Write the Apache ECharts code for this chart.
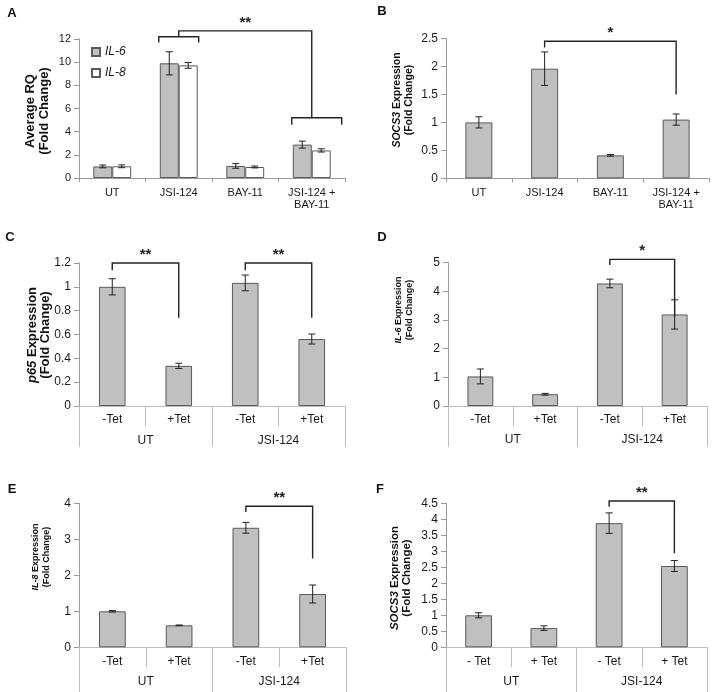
<!DOCTYPE html>
<html><head><meta charset="utf-8">
<script src="https://cdn.jsdelivr.net/npm/echarts@6/dist/echarts.min.js"></script>
<style>html,body{margin:0;padding:0;background:#fff}#c{width:714px;height:692px}</style>
</head><body><div id="c"></div>
<script>
// ---------- data ----------
const catsAB = ['UT', 'JSI-124', 'BAY-11', 'JSI-124 +\nBAY-11'];
const il6MeanA = [1.0, 9.9, 1.04, 2.88];
const il6ErrA = [0.12, 1.0, 0.2, 0.3];
const il8MeanA = [1.01, 9.72, 0.95, 2.38];
const il8ErrA = [0.12, 0.25, 0.08, 0.14];
const socs3MeanB = [1.0, 1.96, 0.41, 1.05];
const socs3ErrB = [0.1, 0.3, 0.015, 0.1];
const tetCats = ['-Tet', '+Tet', '-Tet', '+Tet'];
const tetCatsF = ['- Tet', '+ Tet', '- Tet', '+ Tet'];
const groupCats = ['UT', 'JSI-124'];
const p65MeanC = [1.0, 0.337, 1.033, 0.562];
const p65ErrC = [0.068, 0.022, 0.066, 0.042];
const il6MeanD = [1.03, 0.41, 4.27, 3.19];
const il6ErrD = [0.26, 0.03, 0.15, 0.51];
const il8MeanE = [1.0, 0.61, 3.32, 1.48];
const il8ErrE = [0.02, 0.01, 0.15, 0.25];
const socs3MeanF = [1.0, 0.6, 3.88, 2.54];
const socs3ErrF = [0.08, 0.07, 0.32, 0.17];
const yTicks = {A: [0, 12, 2], B: [0, 2.5, 0.5], C: [0, 1.2, 0.2], D: [0, 5, 1], E: [0, 4, 1], F: [0, 4.5, 0.5]};
// significance brackets (category units, value units)
const sigB = {from: 1, to: 3, top: 2.45, leftEnd: 2.34, rightEnd: 1.5, text: '*'};
const sigC1 = {from: 0, to: 1, top: 1.2, leftEnd: 1.14, rightEnd: 0.74, text: '**'};
const sigC2 = {from: 2, to: 3, top: 1.2, leftEnd: 1.14, rightEnd: 0.74, text: '**'};
const sigD = {from: 2, to: 3, top: 5.11, leftEnd: 4.91, rightEnd: 3.11, text: '*'};
const sigE = {from: 2, to: 3, top: 3.92, leftEnd: 3.76, rightEnd: 2.47, text: '**'};
const sigF = {from: 2, to: 3, top: 4.57, leftEnd: 4.39, rightEnd: 2.94, text: '**'};
const sigA = {leftFrom: 0.7, leftTo: 1.3, leftMid: 1, rightFrom: 2.7, rightTo: 3.45, rightMid: 3,
  top: 12.7, leftInner: 12.2, leftEnds: 11.7, rightInner: 5.2, rightEnds: 4.6, text: '**'};

// ---------- styling ----------
const FONT = "'Liberation Sans', Arial, sans-serif";
const GREY = '#c0c0c0', EDGE = '#5a5a5a', AX = '#9a9a9a', TXT = '#1a1a1a';

const chart = echarts.init(document.getElementById('c'), null, {renderer: 'canvas'});

const grids = [
  {left: 79, top: 39, width: 266, height: 139},
  {left: 446, top: 38.5, width: 263, height: 139.8},
  {left: 79, top: 263, width: 266, height: 143},
  {left: 448, top: 262.5, width: 259, height: 143.5},
  {left: 79, top: 503.3, width: 267, height: 144},
  {left: 446, top: 503.3, width: 261, height: 144}
];

function yAx(g, t, fs) {
  return {type: 'value', gridIndex: g, min: t[0], max: t[1], interval: t[2],
    axisLine: {show: true, lineStyle: {color: AX}},
    axisTick: {show: true, length: 5, lineStyle: {color: AX}},
    splitLine: {show: false},
    axisLabel: {fontFamily: FONT, fontSize: fs, color: TXT, margin: 8}};
}
function xAxSimple(g, cats) {
  return {type: 'category', gridIndex: g, data: cats, position: 'bottom',
    axisLine: {lineStyle: {color: AX}},
    axisTick: {show: true, interval: 0, length: 4, lineStyle: {color: AX}},
    axisLabel: {fontFamily: FONT, fontSize: 11, color: TXT, margin: 9, interval: 0, lineHeight: 12}};
}
function xAxTet(g, cats) {
  return {type: 'category', gridIndex: g, data: cats, position: 'bottom', offset: 0,
    axisLine: {lineStyle: {color: '#bdbdbd'}},
    axisTick: {show: true, interval: 0, length: 20, lineStyle: {color: '#bdbdbd'}},
    axisLabel: {fontFamily: FONT, fontSize: 12, color: TXT, margin: 8, interval: 0}};
}
function xAxGroup(g, len, margin) {
  return {type: 'category', gridIndex: g, data: groupCats, position: 'bottom', offset: 0,
    axisLine: {show: false},
    axisTick: {show: true, interval: 0, length: len, lineStyle: {color: '#bdbdbd'}},
    axisLabel: {fontFamily: FONT, fontSize: 12, color: TXT, margin: margin, interval: 0}};
}

const xAxis = [
  xAxSimple(0, catsAB), xAxSimple(1, catsAB),
  xAxTet(2, tetCats), xAxGroup(2, 41, 29),
  xAxTet(3, tetCats), xAxGroup(3, 41, 28),
  xAxTet(4, tetCats), xAxGroup(4, 45, 28),
  xAxTet(5, tetCatsF), xAxGroup(5, 45, 28)
];
const yAxis = [yAx(0, yTicks.A, 11), yAx(1, yTicks.B, 12), yAx(2, yTicks.C, 12),
  yAx(3, yTicks.D, 12), yAx(4, yTicks.E, 12), yAx(5, yTicks.F, 12)];

function bar(name, xi, yi, data, color, width, extra) {
  return Object.assign({type: 'bar', name: name, xAxisIndex: xi, yAxisIndex: yi, data: data,
    barWidth: width, itemStyle: {color: color, borderColor: EDGE, borderWidth: 1},
    silent: true, animation: false}, extra || {});
}
function errBars(xi, yi, means, errs, offsetFrac) {
  return {type: 'custom', xAxisIndex: xi, yAxisIndex: yi, clip: false, silent: true, animation: false, z: 5,
    data: means.map((m, i) => [i, m, errs[i]]),
    renderItem: function (params, api) {
      const x = api.value(0), v = api.value(1), e = api.value(2);
      const c = api.coord([x, v]);
      const band = api.size([1, 0])[0];
      const cx = c[0] + offsetFrac * band;
      const yt = api.coord([x, v + e])[1], yb = api.coord([x, v - e])[1];
      const w = 3.5, st = {stroke: '#222', lineWidth: 1};
      return {type: 'group', children: [
        {type: 'line', shape: {x1: cx, y1: yt, x2: cx, y2: yb}, style: st},
        {type: 'line', shape: {x1: cx - w, y1: yt, x2: cx + w, y2: yt}, style: st},
        {type: 'line', shape: {x1: cx - w, y1: yb, x2: cx + w, y2: yb}, style: st}
      ]};
    }};
}
function sigBracket(xi, yi, s) {
  return {type: 'custom', xAxisIndex: xi, yAxisIndex: yi, clip: false, silent: true, animation: false, z: 6,
    data: [[0, s.top]],
    renderItem: function (params, api) {
      const p0 = api.coord([0, s.top]);
      const band = api.size([1, 0])[0];
      const X = c => p0[0] + c * band;
      const yT = p0[1], yL = api.coord([0, s.leftEnd])[1], yR = api.coord([0, s.rightEnd])[1];
      return {type: 'group', children: [
        {type: 'polyline', shape: {points: [[X(s.from), yL], [X(s.from), yT], [X(s.to), yT], [X(s.to), yR]]},
          style: {stroke: '#222', lineWidth: 1.4, fill: null}},
        {type: 'text', style: {text: s.text, x: (X(s.from) + X(s.to)) / 2, y: yT - 1, align: 'center',
          verticalAlign: 'bottom', fontSize: 15, fontWeight: 'bold', fontFamily: FONT, fill: '#222'}}
      ]};
    }};
}
function sigBracketA(xi, yi, s) {
  return {type: 'custom', xAxisIndex: xi, yAxisIndex: yi, clip: false, silent: true, animation: false, z: 6,
    data: [[0, s.top]],
    renderItem: function (params, api) {
      const p0 = api.coord([0, s.top]);
      const band = api.size([1, 0])[0];
      const X = c => p0[0] + c * band;
      const Y = v => api.coord([0, v])[1];
      const st = {stroke: '#222', lineWidth: 1.4, fill: null};
      return {type: 'group', children: [
        {type: 'polyline', shape: {points: [[X(s.leftMid), Y(s.leftInner)], [X(s.leftMid), Y(s.top)],
          [X(s.rightMid), Y(s.top)], [X(s.rightMid), Y(s.rightInner)]]}, style: st},
        {type: 'polyline', shape: {points: [[X(s.leftFrom), Y(s.leftEnds)], [X(s.leftFrom), Y(s.leftInner)],
          [X(s.leftTo), Y(s.leftInner)], [X(s.leftTo), Y(s.leftEnds)]]}, style: st},
        {type: 'polyline', shape: {points: [[X(s.rightFrom), Y(s.rightEnds)], [X(s.rightFrom), Y(s.rightInner)],
          [X(s.rightTo), Y(s.rightInner)], [X(s.rightTo), Y(s.rightEnds)]]}, style: st},
        {type: 'text', style: {text: s.text, x: (X(s.leftMid) + X(s.rightMid)) / 2, y: Y(s.top) - 1, align: 'center',
          verticalAlign: 'bottom', fontSize: 15, fontWeight: 'bold', fontFamily: FONT, fill: '#222'}}
      ]};
    }};
}

const series = [
  bar('IL-6', 0, 0, il6MeanA, GREY, '28.5%', {barGap: '0%'}),
  bar('IL-8', 0, 0, il8MeanA, '#ffffff', '28.5%', {barGap: '0%'}),
  errBars(0, 0, il6MeanA, il6ErrA, -0.1425),
  errBars(0, 0, il8MeanA, il8ErrA, 0.1425),
  sigBracketA(0, 0, sigA),
  bar('B', 1, 1, socs3MeanB, GREY, '41%'),
  errBars(1, 1, socs3MeanB, socs3ErrB, 0),
  sigBracket(1, 1, sigB),
  bar('C', 2, 2, p65MeanC, GREY, '40%'),
  errBars(2, 2, p65MeanC, p65ErrC, 0),
  sigBracket(2, 2, sigC1), sigBracket(2, 2, sigC2),
  bar('D', 4, 3, il6MeanD, GREY, '40%'),
  errBars(4, 3, il6MeanD, il6ErrD, 0),
  sigBracket(4, 3, sigD),
  bar('E', 6, 4, il8MeanE, GREY, '40%'),
  errBars(6, 4, il8MeanE, il8ErrE, 0),
  sigBracket(6, 4, sigE),
  bar('F', 8, 5, socs3MeanF, GREY, '41%'),
  errBars(8, 5, socs3MeanF, socs3ErrF, 0),
  sigBracket(8, 5, sigF)
];

function letter(t, x, y) {
  return {type: 'text', x: x, y: y, style: {text: t, fontFamily: FONT, fontSize: 13, fontWeight: 'bold',
    fill: '#111', align: 'center', verticalAlign: 'middle'}};
}
function yTitle(text, x, y, fs, lh) {
  return {type: 'text', x: x, y: y, rotation: Math.PI / 2,
    style: {text: text, fontFamily: FONT, fontSize: fs, fontWeight: 'bold', fill: '#111', lineHeight: lh,
      align: 'center', verticalAlign: 'middle',
      rich: {i: {fontStyle: 'italic', fontWeight: 'bold', fontSize: fs, fontFamily: FONT, fill: '#111', lineHeight: lh}}}};
}

chart.setOption({
  animation: false,
  textStyle: {fontFamily: FONT},
  grid: grids,
  xAxis: xAxis,
  yAxis: yAxis,
  legend: {data: ['IL-6', 'IL-8'], orient: 'vertical', left: 86, top: 41, itemWidth: 8, itemHeight: 8, itemGap: 9,
    icon: 'rect', selectedMode: false,
    textStyle: {fontFamily: FONT, fontSize: 12, fontStyle: 'italic', color: TXT}},
  graphic: [
    letter('A', 12, 13), letter('B', 382, 11), letter('C', 10, 237),
    letter('D', 382, 237), letter('E', 12, 489), letter('F', 380, 489),
    yTitle('Average RQ\n(Fold Change)', 37, 111, 13, 14),
    yTitle('{i|SOCS3} Expression\n(Fold Change)', 403, 100, 10.5, 12),
    yTitle('{i|p65} Expression\n(Fold Change)', 39, 335, 13, 13),
    yTitle('{i|IL-6} Expression\n(Fold Change)', 404.5, 310, 9, 11),
    yTitle('{i|IL-8} Expression\n(Fold Change)', 41.5, 557, 9, 11),
    yTitle('{i|SOCS3} Expression\n(Fold Change)', 401, 578, 11.5, 12)
  ],
  series: series
});
</script></body></html>
